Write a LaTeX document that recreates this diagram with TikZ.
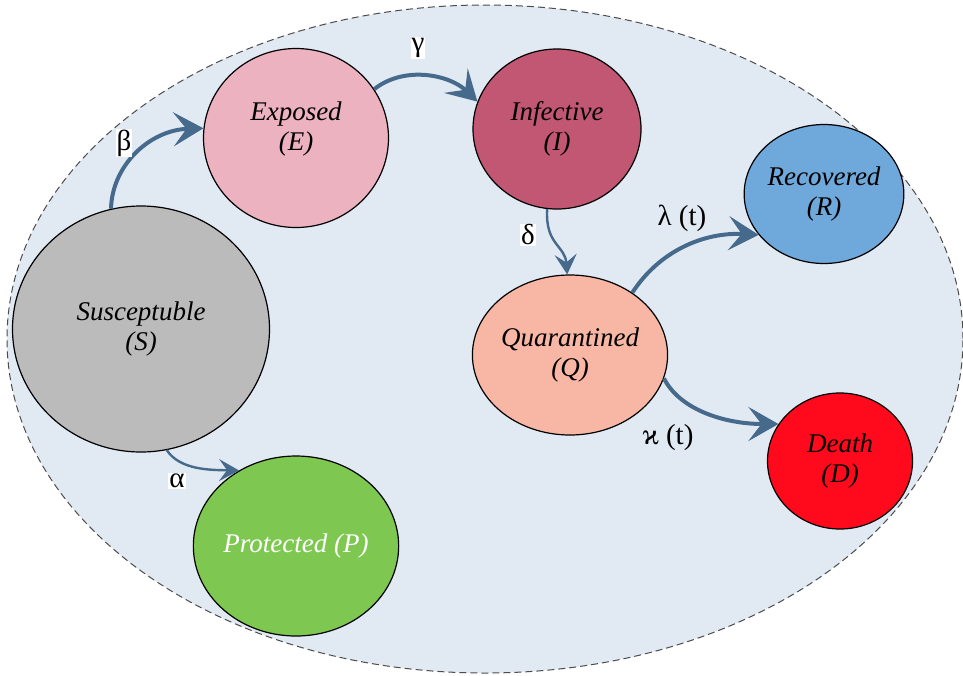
\documentclass[tikz,border=0pt]{standalone}
\usepackage{fontspec}
\setmainfont{Liberation Serif}
\newfontfamily\libserif{Liberation Serif}
\usetikzlibrary{shapes.geometric,arrows.meta}
\definecolor{bgfill}{HTML}{E1E9F3}
\definecolor{arrowc}{HTML}{466A8C}
\definecolor{sfill}{HTML}{BBBBBB}
\definecolor{efill}{HTML}{ECB2C0}
\definecolor{ifill}{HTML}{C15773}
\definecolor{rfill}{HTML}{6FA8DA}
\definecolor{qfill}{HTML}{F8B6A4}
\definecolor{dfill}{HTML}{FF0A1C}
\definecolor{pfill}{HTML}{7EC851}
\begin{document}
\begin{tikzpicture}[x=1pt,y=-1pt,
  state/.style={ellipse, draw=black, line width=1.2pt, inner sep=0pt, align=center,
    font=\libserif\fontsize{27}{30}\selectfont\itshape},
  statetext/.style={inner sep=0pt, align=center, font=\libserif\fontsize{27}{30}\selectfont\itshape},
  flow/.style={draw=arrowc, line width=4pt, -{Stealth[length=30pt,width=34pt,inset=13pt]}},
  thinflow/.style={draw=arrowc, line width=2.4pt, -{Stealth[length=20pt,width=22pt,inset=8pt]}},
  rate/.style={fill=white, inner sep=1pt, font=\libserif\fontsize{29}{30}\selectfont},
  ratenb/.style={inner sep=1pt, font=\libserif\fontsize{29}{30}\selectfont}
]
\useasboundingbox (0,0) rectangle (963,675);
\node[ellipse, draw=black!70, line width=1pt, dash pattern=on 7pt off 4pt, fill=bgfill,
  minimum width=956pt, minimum height=668pt, inner sep=0pt] (region) at (485,339) {};

\node[state, fill=sfill, minimum width=257pt, minimum height=246pt] (S) at (141,329) {Susceptuble\\(S)};
\node[state, fill=efill, minimum width=185pt, minimum height=179pt] (E) at (296,138) {};
\node[statetext] (Etext) at (296,129) {Exposed\\(E)};
\node[state, fill=ifill, minimum width=168pt, minimum height=160pt] (I) at (557,129) {Infective\\(I)};
\node[state, fill=rfill, minimum width=144pt, minimum height=139pt] (R) at (824,194) {Recovered\\(R)};
\node[state, fill=qfill, minimum width=167pt, minimum height=160pt] (Q) at (570,355) {Quarantined\\(Q)};
\node[state, fill=dfill, minimum width=145pt, minimum height=136pt] (D) at (840,461) {Death\\(D)};
\node[state, fill=pfill, minimum width=186pt, minimum height=180pt, text=white] (P) at (296,546) {Protected (P)};

\draw[flow] (S.104) .. controls (112,165) and (150,130) .. (E.174);
\draw[flow] (E.32) .. controls (405,65) and (450,75) .. (I.161);
\draw[thinflow] (I.263) .. controls (545,245) and (565,245) .. (Q.92);
\draw[flow] (Q.45) .. controls (660,250) and (705,232) .. (R.212);
\draw[flow] (Q.346) .. controls (680,410) and (725,424) .. (D.149);
\draw[thinflow] (S.282) .. controls (180,470) and (210,470) .. (P.127);

\node[rate] (beta) at (124,143) {β};
\node[rate] (gamma) at (418,48) {γ};
\node[rate] (delta) at (528,235) {δ};
\node[rate] (alpha) at (177,481) {α};
\node[ratenb] (lambda) at (682,218) {λ (t)};
\node[ratenb] (kappa) at (668,438) {ϰ (t)};
\end{tikzpicture}
\end{document}
